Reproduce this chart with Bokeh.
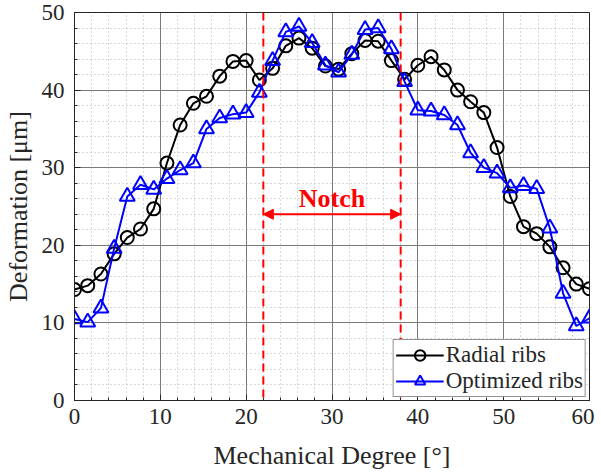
from bokeh.plotting import figure
from bokeh.models import Span, Arrow, NormalHead, Label, FixedTicker, Range1d
from bokeh.embed import file_html
from bokeh.resources import INLINE

degrees = [0.0, 1.54, 3.08, 4.62, 6.15, 7.69, 9.23, 10.77, 12.31, 13.85,
           15.38, 16.92, 18.46, 20.0, 21.54, 23.08, 24.62, 26.15, 27.69, 29.23,
           30.77, 32.31, 33.85, 35.38, 36.92, 38.46, 40.0, 41.54, 43.08, 44.62,
           46.15, 47.69, 49.23, 50.77, 52.31, 53.85, 55.38, 56.92, 58.46, 60.0]
radial = [14.3, 14.8, 16.3, 18.9, 21.0, 22.1, 24.7, 30.6, 35.5, 38.3,
          39.2, 41.8, 43.7, 43.8, 41.3, 42.8, 45.7, 46.7, 45.4, 43.1,
          42.7, 44.7, 46.4, 46.3, 43.8, 41.4, 43.2, 44.3, 42.6, 40.0,
          38.5, 37.1, 32.6, 26.3, 22.4, 21.5, 19.8, 17.1, 15.0, 14.4]
optimized = [10.5, 10.1, 11.9, 19.6, 26.3, 27.8, 27.2, 28.6, 29.7, 30.6,
             35.0, 36.4, 36.9, 37.1, 39.7, 43.8, 47.5, 48.2, 46.1, 43.2,
             42.3, 44.6, 47.8, 48.0, 45.3, 41.1, 37.4, 37.3, 36.8, 35.5,
             31.9, 30.0, 29.3, 27.4, 27.7, 27.3, 22.2, 13.8, 9.6, 10.6]
x_ticks = [0, 10, 20, 30, 40, 50, 60]
y_ticks = [0, 10, 20, 30, 40, 50]
notch_start, notch_end = 22, 38
notch_arrow_y = 24
notch_label_y = 26.0

FONT = "Liberation Serif"
TXT = "#262626"

p = figure(frame_width=515, frame_height=388, x_range=Range1d(0, 60), y_range=Range1d(0, 50),
           output_backend="svg", toolbar_location=None,
           min_border_left=65, min_border_right=5, min_border_top=12, min_border_bottom=60)
p.background_fill_color = "white"
p.border_fill_color = "white"
p.outline_line_color = TXT
p.outline_line_width = 1

for ax, ticks in ((p.xaxis, x_ticks), (p.yaxis, y_ticks)):
    ax.ticker = FixedTicker(ticks=ticks, minor_ticks=[t for t in range(0, 61, 2)])
    ax.major_label_text_font = FONT
    ax.major_label_text_font_size = "23px"
    ax.major_label_text_color = TXT
    ax.axis_label_text_font = FONT
    ax.axis_label_text_font_size = "26px"
    ax.axis_label_text_font_style = "normal"
    ax.axis_label_text_color = TXT
    ax.axis_line_color = TXT
    ax.major_tick_in = 6
    ax.major_tick_out = 0
    ax.minor_tick_in = 3
    ax.minor_tick_out = 0
    ax.major_tick_line_color = TXT
    ax.minor_tick_line_color = TXT

p.xaxis.axis_label = "Mechanical Degree [°]"
p.yaxis.axis_label = "Deformation [μm]"
p.xaxis.major_label_standoff = 8
p.yaxis.major_label_standoff = 10
p.xaxis.axis_label_standoff = 14
p.yaxis.axis_label_standoff = 6

for g in (p.xgrid, p.ygrid):
    g.grid_line_color = "#7a7a7a"
    g.grid_line_width = 1
    g.minor_grid_line_color = "#b0b0b0"
    g.minor_grid_line_dash = "1 3"
    g.minor_grid_line_width = 1

# Notch markers
for xv in (notch_start, notch_end):
    p.add_layout(Span(location=xv, dimension="height", line_color="#ff0000",
                      line_width=2, line_dash="8 5"))
p.add_layout(Arrow(x_start=notch_start, y_start=notch_arrow_y, x_end=notch_end, y_end=notch_arrow_y,
                   line_color="#ff0000", line_width=2,
                   start=NormalHead(size=10, fill_color="#ff0000", line_color="#ff0000"),
                   end=NormalHead(size=10, fill_color="#ff0000", line_color="#ff0000")))
p.add_layout(Label(x=(notch_start + notch_end) / 2, y=notch_label_y, text="Notch",
                   text_font=FONT, text_font_size="26px", text_font_style="bold",
                   text_color="#ff0000", text_align="center", text_baseline="alphabetic"))

p.line(degrees, radial, line_color="black", line_width=2, legend_label="Radial ribs")
p.scatter(degrees, radial, marker="circle", size=13, line_color="black", line_width=2,
          fill_alpha=0, legend_label="Radial ribs")
p.line(degrees, optimized, line_color="#0000ff", line_width=2, legend_label="Optimized ribs")
p.scatter(degrees, optimized, marker="triangle", size=15, line_color="#0000ff", line_width=2,
          fill_alpha=0, legend_label="Optimized ribs")

lg = p.legend[0]
lg.location = "bottom_right"
lg.margin = 3
lg.padding = 2
lg.spacing = 0
lg.label_text_font = FONT
lg.label_text_font_size = "23px"
lg.label_text_color = TXT
lg.glyph_width = 48
lg.glyph_height = 26
lg.label_standoff = 2
lg.label_height = 26
lg.border_line_color = TXT
lg.border_line_width = 1
lg.background_fill_alpha = 1

open("out.html", "w").write(file_html(p, INLINE))
